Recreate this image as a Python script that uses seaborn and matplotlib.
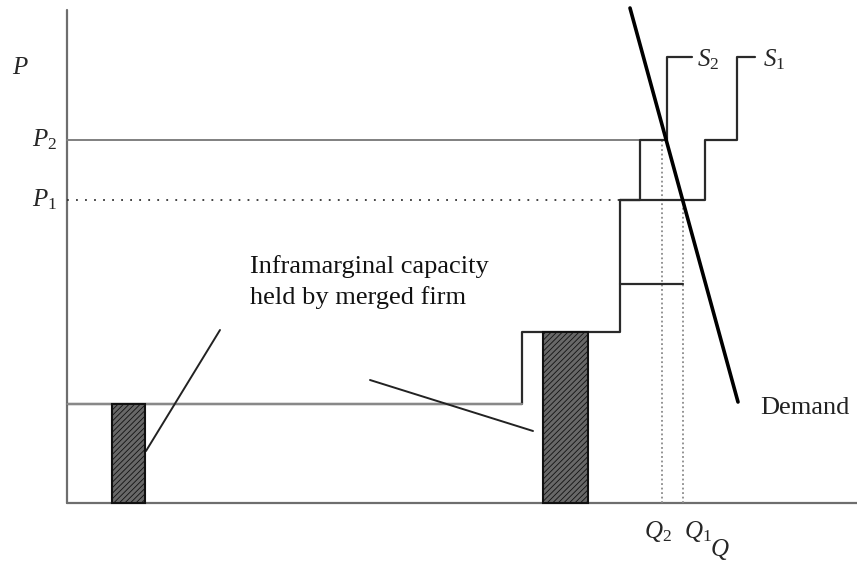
import numpy as np
import matplotlib
matplotlib.use('Agg')
import matplotlib.pyplot as plt
import seaborn as sns

sns.set_theme(style='white')
plt.rcParams['font.family'] = ['Liberation Serif', 'DejaVu Serif']
plt.rcParams['mathtext.fontset'] = 'custom'
plt.rcParams['mathtext.it'] = 'Liberation Serif:italic'
plt.rcParams['mathtext.rm'] = 'Liberation Serif'
plt.rcParams['hatch.color'] = '#474747'
plt.rcParams['hatch.linewidth'] = 0.6

# Prices / quantities (diagram units)
p1, p2, p_top = 303, 363, 446
q2, q1 = 595, 616

# common lower part of the supply curve
base_q = [0, 455, 455, 553, 553]
base_p = [99, 99, 171, 171, 303]

# supply after merger (S2) and before (S1)
s2_q = [553, 573, 573, 600, 600, 625]
s2_p = [303, 303, p2, p2, p_top, p_top]
s1_q = [553, 638, 638, 670, 670, 688]
s1_p = [303, 303, p2, p2, p_top, p_top]

# inner step
mid_q = [553, 616]
mid_p = [219, 219]

# demand
demand_q = [563, 671]
demand_p = [495, 101]

# inframarginal capacity held by merged firm
bar_left = [45, 476]
bar_width = [33, 45]
bar_height = [99, 171]

# leader lines
lead1_q, lead1_p = [153, 79], [173, 52]
lead2_q, lead2_p = [303, 466], [123, 72]

fig = plt.figure(figsize=(8.57, 5.65), dpi=100)
ax = fig.add_axes([0, 0, 1, 1])
ax.set_xlim(-67, 790)
ax.set_ylim(-62, 503)
ax.axis('off')

axis_col = '#6e6e6e'
ax.plot([0, 0], [0, 493], color=axis_col, lw=1.6)
ax.plot([0, 790], [0, 0], color=axis_col, lw=1.6)

# price reference lines
ax.plot([0, 600], [p2, p2], color='#808080', lw=1.4)
ax.plot([0, q1], [p1, p1], color='#333333', lw=1.3, ls=(0, (1, 4)))

# quantity reference lines
ax.plot([q2, q2], [0, p2], color='#8a8a8a', lw=1.3, ls=(0, (1, 1.5)))
ax.plot([q1, q1], [0, p1], color='#8a8a8a', lw=1.3, ls=(0, (1, 1.5)))

# bars
ax.bar(bar_left, bar_height, width=bar_width, align='edge',
       facecolor='#686868', edgecolor='#111111', hatch='//////', lw=1.5, zorder=3)

# supply steps
step_col = '#2a2a2a'
ax.plot(base_q, base_p, color=step_col, lw=1.6)
ax.plot(base_q[:2], base_p[:2], color='#888888', lw=1.6)
ax.plot(s2_q, s2_p, color=step_col, lw=1.6)
ax.plot(s1_q, s1_p, color=step_col, lw=1.6)
ax.plot(mid_q, mid_p, color=step_col, lw=1.6)

# demand
sns.lineplot(x=demand_q, y=demand_p, color='black', lw=2.6, ax=ax, sort=False)

# leader lines
ax.plot(lead1_q, lead1_p, color='#222222', lw=1.4)
ax.plot(lead2_q, lead2_p, color='#222222', lw=1.4)

fs = 18
ax.text(-47, 435, '$P$', fontsize=fs, ha='center', va='center')
ax.text(-10, p2, '$P_2$', fontsize=fs, ha='right', va='center')
ax.text(-10, p1, '$P_1$', fontsize=fs, ha='right', va='center')
ax.text(591, -28, '$Q_2$', fontsize=fs, ha='center', va='center')
ax.text(631, -28, '$Q_1$', fontsize=fs, ha='center', va='center')
ax.text(653, -46, '$Q$', fontsize=fs, ha='center', va='center')
ax.text(630, 443, '$S_2$', fontsize=fs, ha='left', va='center')
ax.text(696, 443, '$S_1$', fontsize=fs, ha='left', va='center')
ax.text(693, 95, 'Demand', fontsize=19, ha='left', va='center', color='#222222')
ax.text(183, 221, 'Inframarginal capacity\nheld by merged firm', fontsize=19,
        ha='left', va='center', linespacing=1.5, color='#111111')

fig.savefig('out.png', dpi=100)
